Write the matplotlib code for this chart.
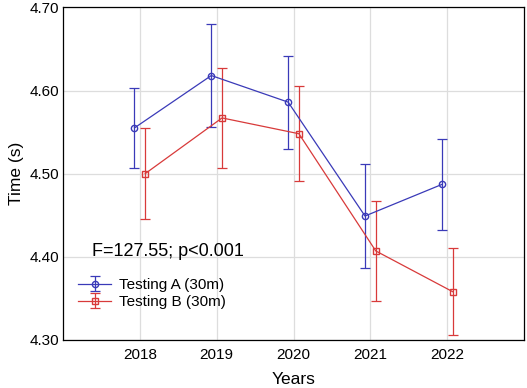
import matplotlib
matplotlib.use("Agg")
import matplotlib.pyplot as plt
import numpy as np

plt.rcParams['font.family'] = ['Liberation Sans', 'DejaVu Sans']

years = [2018, 2019, 2020, 2021, 2022]
test_a = [4.555, 4.618, 4.586, 4.449, 4.487]
test_a_err = [0.048, 0.062, 0.056, 0.063, 0.055]
test_b = [4.500, 4.567, 4.548, 4.407, 4.358]
test_b_err = [0.055, 0.060, 0.057, 0.060, 0.052]
yticks = [4.30, 4.40, 4.50, 4.60, 4.70]

blue = '#3a3ab8'
red = '#d83a3a'
shift = 0.07

fig = plt.figure(figsize=(5.27, 3.88), dpi=100)
ax = fig.add_axes([0.1195, 0.124, 0.875, 0.857])

x = np.array(years, dtype=float)
ax.errorbar(x - shift, test_a, yerr=test_a_err, color=blue, lw=0.9,
            marker='o', ms=4.5, mfc='none', mec=blue, capsize=3.5,
            elinewidth=0.9, capthick=0.9, label='Testing A (30m)')
ax.errorbar(x + shift, test_b, yerr=test_b_err, color=red, lw=0.9,
            marker='s', ms=4.5, mfc='none', mec=red, capsize=3.5,
            elinewidth=0.9, capthick=0.9, label='Testing B (30m)')

ax.set_xlim(2017.0, 2023.0)
ax.set_ylim(4.30, 4.70)
ax.set_xticks(years)
ax.set_yticks(yticks)
ax.set_yticklabels([f'{v:.2f}' for v in yticks])
ax.grid(True, color='#dddddd', lw=0.9)
ax.set_axisbelow(True)
ax.tick_params(labelsize=11, length=0)
ax.tick_params(axis='x', pad=6)
ax.tick_params(axis='y', pad=3)
for s in ax.spines.values():
    s.set_linewidth(0.9)

ax.set_xlabel('Years', fontsize=12.5, labelpad=7)
ax.set_ylabel('Time (s)', fontsize=12.5, labelpad=4)

ax.text(0.063, 0.265, 'F=127.55; p<0.001', transform=ax.transAxes,
        fontsize=13, va='center')
ax.legend(loc='lower left', bbox_to_anchor=(0.009, 0.061), frameon=False,
          fontsize=11, handlelength=2.2, borderaxespad=0.3,
          handletextpad=0.5, labelspacing=0.2)

fig.savefig('out.png', dpi=100)
